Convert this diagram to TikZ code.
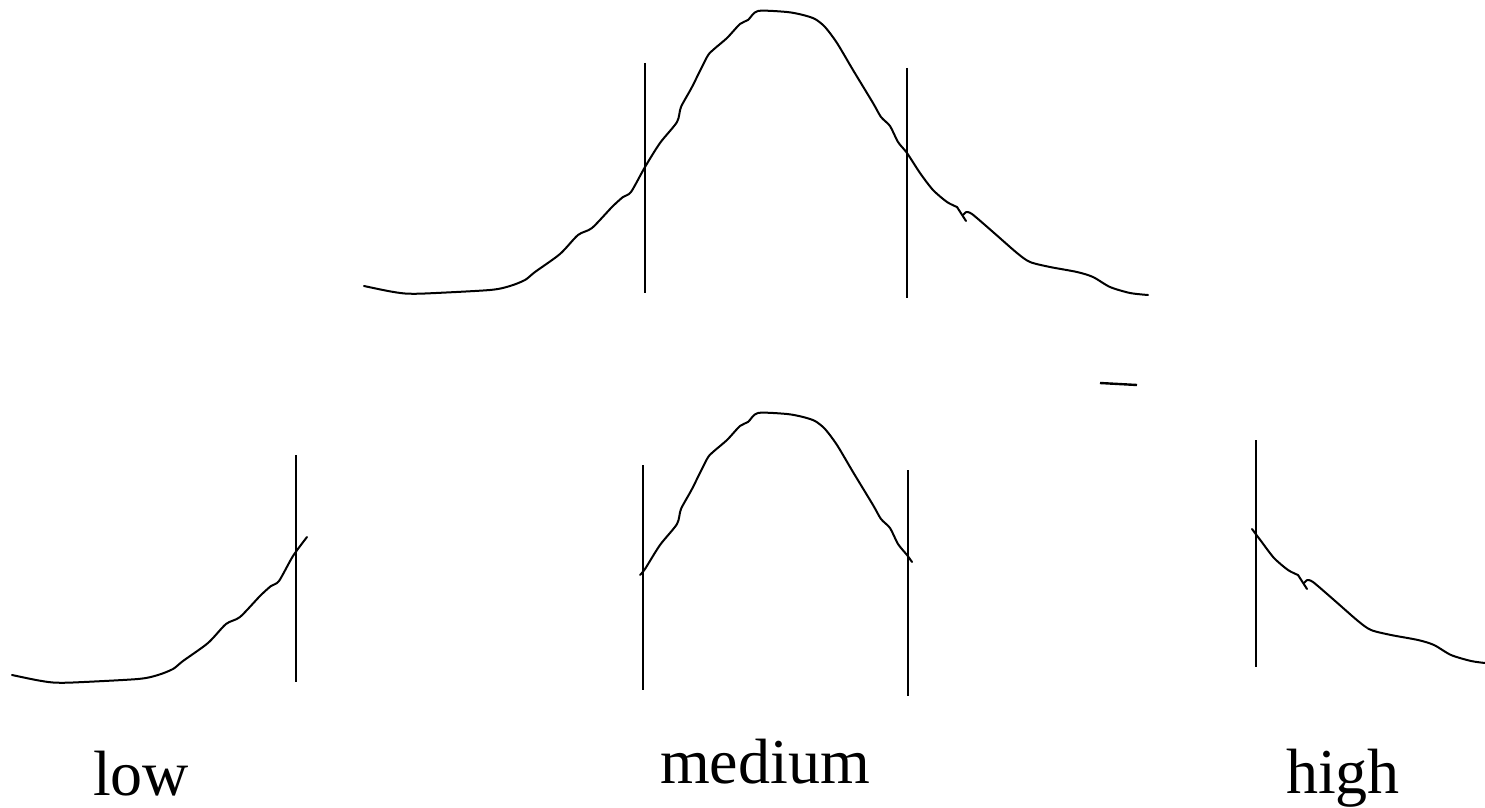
\documentclass[tikz,border=0pt]{standalone}
\usepackage{fontspec}
\setmainfont{Liberation Serif}
\begin{document}
\begin{tikzpicture}[x=0.5pt,y=-0.5pt,
  curve/.style={line width=1pt,line join=round,line cap=round},
  cutline/.style={line width=1pt},
  lbl/.style={anchor=base,inner sep=0pt,font=\fontsize{32}{38}\selectfont}]
\useasboundingbox (0,0) rectangle (1485,808);
% ---------- top full curve ----------
\draw[curve] plot[smooth,tension=0.45] coordinates {(364,286)(388,291)(405,293.5)(425,293.5)(490,290)(510,286)(525,280)(535,272)(560,254)(578,235)(592,228)(612,207)(623,197)(631,192)(645,167)(660,143)(677,122)(681,107)(692,87)(707,57)(713,50)(727,38)(740,24)(748,20)(758,11)(787,12)(803,15)(815,19)(825,27)(837,43)(853,70)(873,103)(881,117)(890,126)(898,142)(907,153)(920,173)(933,190)(947,202)(957,207)} -- (966,221);
\draw[curve] (963,215) -- (966,212) plot[smooth,tension=0.45] coordinates {(966,212)(972,214)(993,232)(1017,253)(1030,262)(1050,267)(1077,272)(1093,277)(1110,287)(1130,293)(1148,295)};
\draw[cutline] (645,63) -- (645,293);
\draw[cutline] (907,68) -- (907,298);
% small stray stroke
\draw[line width=1.2pt] (1100,383) -- (1137,385);
% ---------- low ----------
\begin{scope}[shift={(-352,389)}]
\draw[curve] plot[smooth,tension=0.45] coordinates {(364,286)(388,291)(405,293.5)(425,293.5)(490,290)(510,286)(525,280)(535,272)(560,254)(578,235)(592,228)(612,207)(623,197)(631,192)(645,167)(659,148)};
\end{scope}
\draw[cutline] (296,455) -- (296,682);
% ---------- medium ----------
\begin{scope}[shift={(0,402)}]
\draw[curve] plot[smooth,tension=0.45] coordinates {(640,173)(645,167)(660,143)(677,122)(681,107)(692,87)(707,57)(713,50)(727,38)(740,24)(748,20)(758,11)(787,12)(803,15)(815,19)(825,27)(837,43)(853,70)(873,103)(881,117)(890,126)(898,142)(907,153)(912,160)};
\end{scope}
\draw[cutline] (643,465) -- (643,690);
\draw[cutline] (908,470) -- (908,696);
% ---------- high ----------
\begin{scope}[shift={(341,368)}]
\draw[curve] plot[smooth,tension=0.45] coordinates {(911,161)(920,173)(933,190)(947,202)(957,207)} -- (966,221);
\draw[curve] (963,215) -- (966,212) plot[smooth,tension=0.45] coordinates {(966,212)(972,214)(993,232)(1017,253)(1030,262)(1050,267)(1077,272)(1093,277)(1110,287)(1130,293)(1144,295)};
\end{scope}
\draw[cutline] (1256,440) -- (1256,667);
% ---------- labels ----------
\node[lbl] (low) at (141,795) {low};
\node[lbl] (medium) at (765,783) {medium};
\node[lbl] (high) at (1343,793) {high};
\end{tikzpicture}
\end{document}
